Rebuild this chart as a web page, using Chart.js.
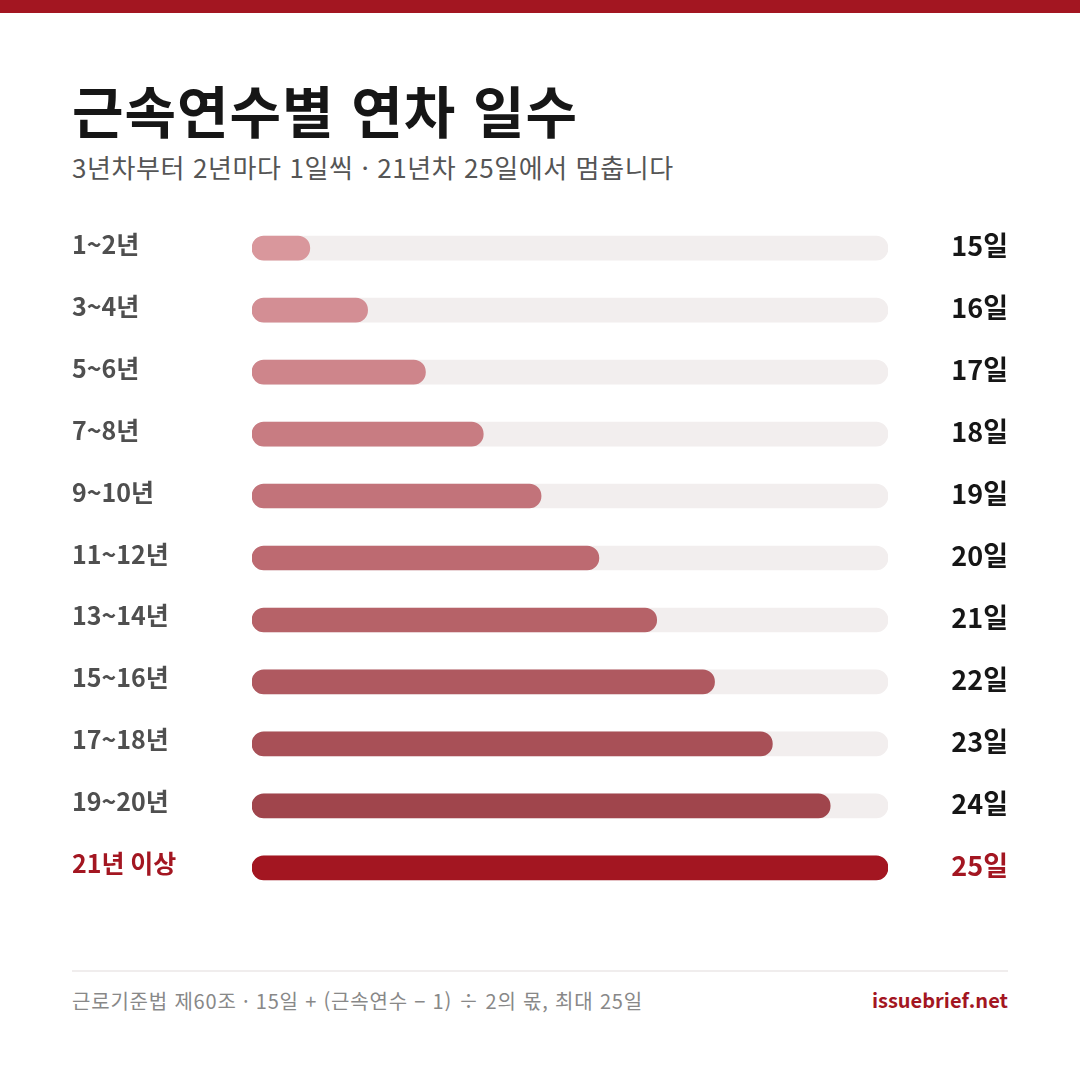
<!DOCTYPE html>
<html lang="ko">
<head>
<meta charset="utf-8">
<script src="https://cdn.jsdelivr.net/npm/chart.js@4/dist/chart.umd.min.js"></script>
<style>
  html, body { margin: 0; padding: 0; background: #fff; }
  body { width: 1080px; height: 1080px; position: relative; overflow: hidden; font-family: "Noto Sans CJK KR", "Noto Sans", sans-serif; }
  .topbar { position: absolute; left: 0; top: 0; width: 1080px; height: 13px; background: #A31621; }
  .title { position: absolute; left: 72px; top: 81px; font-size: 56px; line-height: 56px; font-weight: 700; color: #161616; letter-spacing: 1px; }
  .sub { position: absolute; left: 72px; top: 153px; font-size: 26px; line-height: 28px; color: #555; letter-spacing: 0.6px; }
  .wrap { position: absolute; left: 0; top: 201px; width: 1080px; height: 714px; }
  .rule { position: absolute; left: 72px; top: 970px; width: 936px; height: 2px; background: #F0EDED; }
  .foot { position: absolute; left: 72px; top: 990px; font-size: 20px; line-height: 22px; color: #888; letter-spacing: 0.8px; }
  .brand { position: absolute; right: 72px; top: 989px; font-size: 20px; line-height: 22px; color: #A31621; font-weight: 700; }
</style>
</head>
<body>
<div class="topbar"></div>
<div class="title">근속연수별 연차 일수</div>
<div class="sub">3년차부터 2년마다 1일씩 · 21년차 25일에서 멈춥니다</div>
<div class="wrap"><canvas id="leaveChart"></canvas></div>
<div class="rule"></div>
<div class="foot">근로기준법 제60조 · 15일 + (근속연수 − 1) ÷ 2의 몫, 최대 25일</div>
<div class="brand">issuebrief.net</div>
<script>
// 근속연수 구간
const tenure = ['1~2년', '3~4년', '5~6년', '7~8년', '9~10년', '11~12년', '13~14년', '15~16년', '17~18년', '19~20년', '21년 이상'];
// 연차 일수
const days = [15, 16, 17, 18, 19, 20, 21, 22, 23, 24, 25];
const dayLabels = days.map(d => d + '일');
const trackMax = [25, 25, 25, 25, 25, 25, 25, 25, 25, 25, 25];

const barColors = ['#D9979C', '#D38E94', '#CE858B', '#C87C82', '#C2737A', '#BD6A71', '#B66268', '#AF5960', '#A85057', '#A0454C', '#A31621'];
const RED = '#A31621';
const last = tenure.length - 1;

const ctx = document.getElementById('leaveChart').getContext('2d');
const leaveChart = new Chart(ctx, {
  type: 'bar',
  data: {
    labels: tenure,
    datasets: [
      {
        data: days,
        base: 14,
        backgroundColor: barColors,
        borderRadius: 12,
        borderSkipped: false,
        barThickness: 24,
        grouped: false
      },
      {
        data: trackMax,
        base: 14,
        backgroundColor: '#F2EEEE',
        borderRadius: 12,
        borderSkipped: false,
        barThickness: 24,
        grouped: false
      }
    ]
  },
  options: {
    indexAxis: 'y',
    responsive: true,
    maintainAspectRatio: false,
    animation: false,
    layout: { padding: { left: 72, right: 72, top: 0, bottom: 0 } },
    plugins: { legend: { display: false }, tooltip: { enabled: false } },
    scales: {
      x: { display: false, min: 14, max: 25 },
      y: {
        position: 'left',
        grid: { display: false },
        border: { display: false },
        afterFit: s => { s.width = 180; },
        ticks: {
          crossAlign: 'far',
          padding: 0,
          labelOffset: -4,
          font: { family: 'Noto Sans CJK KR', weight: 'bold', size: 25 },
          color: c => c.index === last ? RED : '#4F4F4F'
        }
      },
      y2: {
        type: 'category',
        labels: dayLabels,
        position: 'right',
        offset: true,
        grid: { display: false },
        border: { display: false },
        afterFit: s => { s.width = 120; },
        ticks: {
          crossAlign: 'far',
          padding: 0,
          labelOffset: -2,
          font: { family: 'Noto Sans CJK KR', weight: 'bold', size: 27 },
          color: c => c.index === last ? RED : '#161616'
        }
      }
    }
  }
});
</script>
</body>
</html>
